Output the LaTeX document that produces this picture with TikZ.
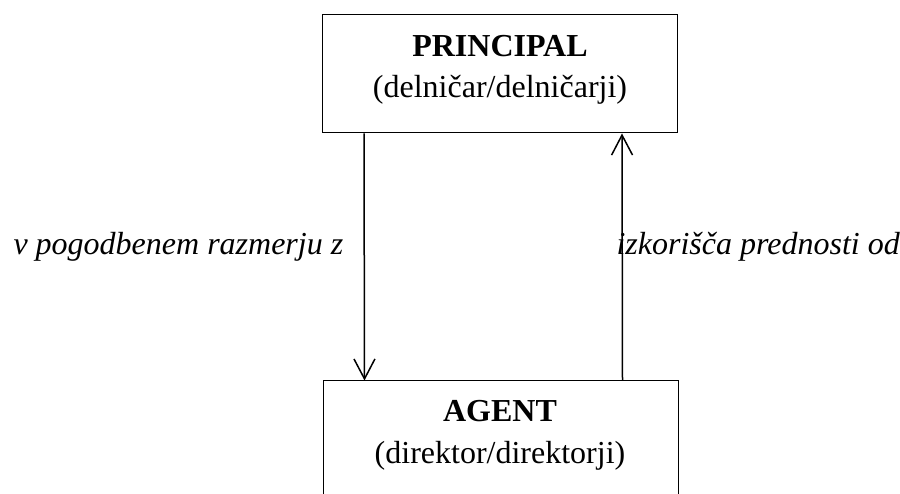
\documentclass[tikz,border=0pt]{standalone}
\usepackage{fontspec}
\setmainfont{Liberation Serif}
\usetikzlibrary{arrows.meta}

\begin{document}
\begin{tikzpicture}[x=1pt,y=-1pt,
  box/.style={draw, line width=1pt, minimum width=355pt, inner sep=0pt},
  title/.style={font=\fontsize{32}{38}\selectfont\bfseries, anchor=base},
  role/.style={font=\fontsize{32}{38}\selectfont, anchor=base},
  relation/.style={font=\fontsize{32}{38}\selectfont\itshape, anchor=base west},
  link/.style={line width=1.5pt, -{Straight Barb[length=20pt,width=21pt]}}]
  \useasboundingbox (0,0) rectangle (900,494);
  \clip (0,0) rectangle (900,494);
  % the two parties
  \node[box, minimum height=118pt] (principal) at (500,74) {};
  \node[box, minimum height=140pt] (agent) at (500.5,451) {};
  \node[title] (principaltitle) at (500,57) {PRINCIPAL};
  \node[role] (principalrole) at (500,98) {(delničar/delničarji)};
  \node[title] (agenttitle) at (500,421) {AGENT};
  \node[role] (agentrole) at (500,463) {(direktor/direktorji)};
  % relations
  \draw[link] ([xshift=42pt]principal.south west) -- ([xshift=42pt]agent.north west);
  \draw[link] ([xshift=300pt]agent.north west) -- ([xshift=300pt]principal.south west);
  \node[relation] (contract) at (10,255) {v pogodbenem razmerju z};
  \node[relation] (benefit) at (613,255) {izkorišča prednosti od};
\end{tikzpicture}
\end{document}
